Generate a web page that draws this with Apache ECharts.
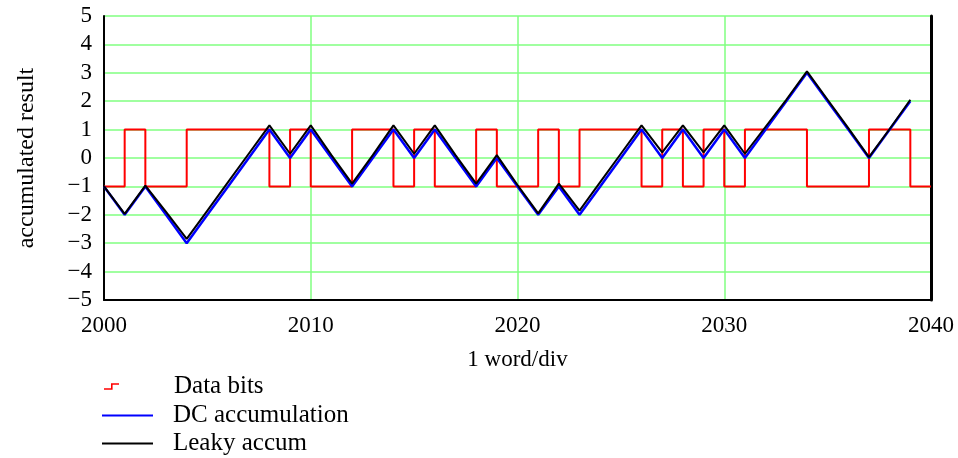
<!DOCTYPE html>
<html>
<head>
<meta charset="utf-8">
<script src="https://cdn.jsdelivr.net/npm/echarts@6/dist/echarts.min.js"></script>
<style>
  html, body { margin: 0; padding: 0; background: #fff; }
  #chart { width: 958px; height: 458px; }
</style>
</head>
<body>
<div id="chart"></div>
<script>
// x positions (one word per step)
var years = [];
for (var y = 2000; y <= 2040; y++) years.push(y);

// data bits, value held from each year to the next (last point closes at 2040)
var dataBits = [-1, 1, -1, -1, 1, 1, 1, 1, -1, 1,
                -1, -1, 1, 1, -1, 1, -1, -1, 1, -1,
                -1, 1, -1, 1, 1, 1, -1, 1, -1, 1,
                -1, 1, 1, 1, -1, -1, -1, 1, 1, -1, -1];

// DC accumulation, 2000..2039
var dcAccum = [-1, -2, -1, -2, -3, -2, -1, 0, 1, 0,
               1, 0, -1, 0, 1, 0, 1, 0, -1, 0,
               -1, -2, -1, -2, -1, 0, 1, 0, 1, 0,
               1, 0, 1, 2, 3, 2, 1, 0, 1, 2];

// Leaky accum, 2000..2039
var leakyAccum = [-1, -1.97, -0.97, -1.9, -2.85, -1.85, -0.85, 0.15, 1.15, 0.15,
                  1.15, 0.1, -0.9, 0.1, 1.15, 0.15, 1.15, 0.1, -0.9, 0.1,
                  -0.95, -1.95, -0.9, -1.85, -0.85, 0.15, 1.15, 0.2, 1.15, 0.2,
                  1.15, 0.15, 1.1, 2.05, 3.05, 2.05, 1.05, 0.03, 1.02, 2.05];

var yTicks = [-5, -4, -3, -2, -1, 0, 1, 2, 3, 4, 5];

function pairs(xs, vs) {
   var out = [];
   for (var i = 0; i < vs.length; i++) out.push([xs[i], vs[i]]);
   return out;
}

var font = '"Liberation Serif", "Times New Roman", serif';
var grid = '#80ff80';

var chart = echarts.init(document.getElementById('chart'));

var legendText = { fontFamily: font, fontSize: 25, color: '#000', padding: [0, 0, 0, 15] };

var option = {
   animation: false,
   grid: { left: 104, right: 27, top: 16, bottom: 158 },
   legend: [{
      orient: 'vertical', left: 99, top: 369,
      itemWidth: 15, itemHeight: 7, selectedMode: false,
      textStyle: { fontFamily: font, fontSize: 25, color: '#000', padding: [0, 0, 0, 50] },
      data: [{ name: 'Data bits', icon: 'path://M0,5h7v-5h8v1.6h-6.4v5h-8.6z', itemStyle: { color: '#ff0000' } }]
   }, {
      orient: 'vertical', left: 97, top: 398,
      itemWidth: 51, itemHeight: 2, selectedMode: false,
      textStyle: legendText,
      data: [{ name: 'DC accumulation', icon: 'rect', itemStyle: { color: '#0000ff' } }]
   }, {
      orient: 'vertical', left: 97, top: 426,
      itemWidth: 51, itemHeight: 2, selectedMode: false,
      textStyle: legendText,
      data: [{ name: 'Leaky accum', icon: 'rect', itemStyle: { color: '#000000' } }]
   }],
   xAxis: {
      type: 'value',
      min: 2000,
      max: 2040,
      interval: 10,
      name: '1 word/div',
      nameLocation: 'middle',
      nameGap: 48,
      nameTextStyle: { fontFamily: font, fontSize: 23, color: '#000' },
      axisLine: { onZero: false, lineStyle: { color: '#000', width: 2 } },
      axisTick: { show: false },
      axisLabel: {
         fontFamily: font, fontSize: 23, color: '#000', margin: 14,
         formatter: function (v) { return String(v); }
      },
      splitLine: { show: true, lineStyle: { color: grid, width: 1.5 } }
   },
   yAxis: [{
      type: 'value',
      min: yTicks[0],
      max: yTicks[yTicks.length - 1],
      interval: 1,
      name: 'accumulated result',
      nameLocation: 'middle',
      nameGap: 65,
      nameTextStyle: { fontFamily: font, fontSize: 24, color: '#000' },
      axisLine: { show: true, onZero: false, lineStyle: { color: '#000', width: 2 } },
      axisTick: { show: false },
      axisLabel: {
         fontFamily: font, fontSize: 23, color: '#000', margin: 12,
         formatter: function (v) { return v < 0 ? '\u2212' + Math.abs(v) : String(v); }
      },
      splitLine: { show: true, lineStyle: { color: grid, width: 1.5 } }
   }, {
      type: 'value',
      position: 'right',
      min: yTicks[0],
      max: yTicks[yTicks.length - 1],
      interval: 1,
      axisLine: { show: true, onZero: false, lineStyle: { color: '#000', width: 3 } },
      axisTick: { show: false },
      axisLabel: { show: false },
      splitLine: { show: false }
   }],
   series: [{
      name: 'Data bits',
      type: 'line',
      step: 'end',
      showSymbol: false,
      data: pairs(years, dataBits),
      lineStyle: { color: '#ff0000', width: 2 },
      itemStyle: { color: '#ff0000' },
      z: 2
   }, {
      name: 'DC accumulation',
      type: 'line',
      showSymbol: false,
      data: pairs(years, dcAccum),
      lineStyle: { color: '#0000ff', width: 2.5 },
      itemStyle: { color: '#0000ff' },
      z: 3
   }, {
      name: 'Leaky accum',
      type: 'line',
      showSymbol: false,
      data: pairs(years, leakyAccum),
      lineStyle: { color: '#000000', width: 2 },
      itemStyle: { color: '#000000' },
      z: 4
   }]
};

chart.setOption(option);
</script>
</body>
</html>
